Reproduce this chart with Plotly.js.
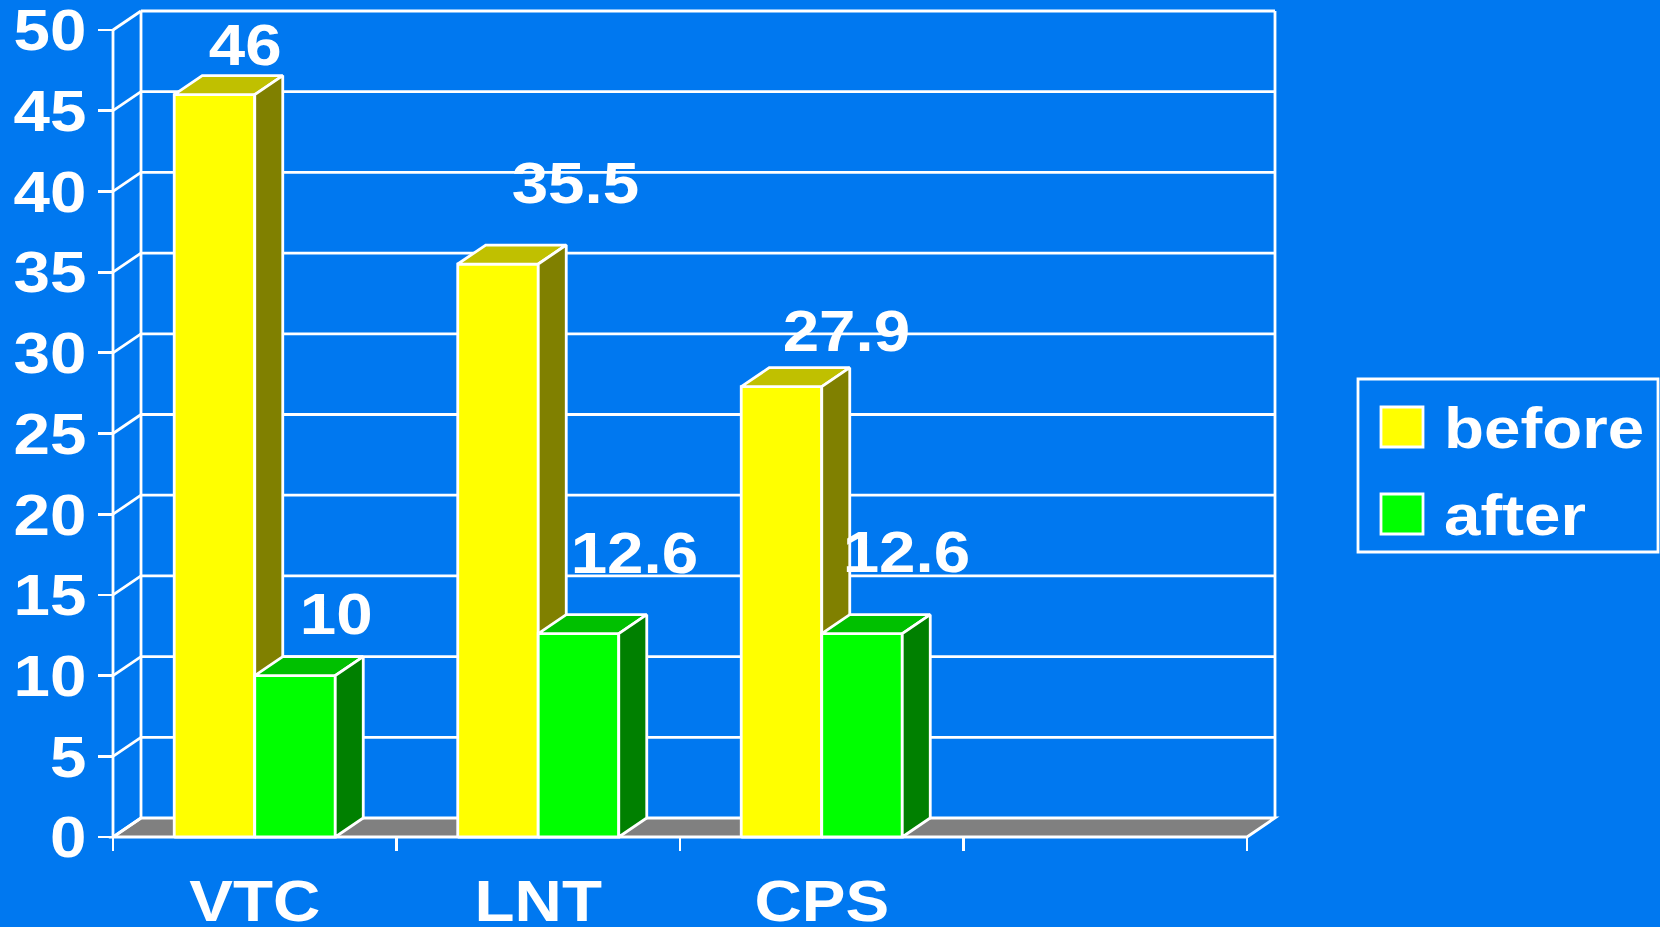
<!DOCTYPE html>
<html>
<head>
<meta charset="utf-8">
<script src="https://cdn.plot.ly/plotly-3.0.1.min.js"></script>
<style>html,body{margin:0;padding:0;background:rgb(0,120,240);}#chart{width:1660px;height:927px;}</style>
</head>
<body>
<div id="chart"></div>
<script>
// ---- data ----
const categories = ['VTC', 'LNT', 'CPS'];
const before = [46, 35.5, 27.9];
const after = [10, 12.6, 12.6];
const seriesNames = ['before', 'after'];
const yTickVals = [0, 5, 10, 15, 20, 25, 30, 35, 40, 45, 50];

// ---- layout constants (geometry / style) ----
const W = 1660, H = 927;
const SLOTS = 4;                 // the category axis has one empty slot at the right
const PX_X = 283.5, PX_Y = 16.14; // pixels per unit
const X0 = 113, Y0 = 837;        // pixel position of the front-left-bottom corner
const DX = 28 / PX_X, DY = 19 / PX_Y; // depth offset in data units
const BW = 0.284;                // bar width in slot units
const BG = 'rgb(0,120,240)';
const TEXT_STRETCH = 1.13;       // the source lettering is horizontally widened
const FONT = {family: '"Liberation Sans", Arial, sans-serif', size: 58, color: 'white', weight: 'bold'};
const faceColors = [
  {front: 'rgb(255,255,0)', top: 'rgb(192,192,0)', side: 'rgb(128,128,0)'},
  {front: 'rgb(0,255,0)', top: 'rgb(0,192,0)', side: 'rgb(0,128,0)'}
];
// per-label pixel shifts (as placed in the source picture)
const labelShift = [
  [[31, 50], [78, 82], [65, 56]],
  [[41, 62], [56, 81], [44, 82]]
];

const xr = [-0.5 - X0 / PX_X, -0.5 + (W - X0) / PX_X];
const yr = [-(H - Y0) / PX_Y, Y0 / PX_Y];
const xL = -0.5, xR = SLOTS - 0.5;
const yMax = yTickVals[yTickVals.length - 1];
const LW = 2.8;

function face(xs, ys, color) {
  return {type: 'scatter', mode: 'lines', x: xs, y: ys, fill: 'toself', fillcolor: color,
          line: {color: 'white', width: LW}, hoverinfo: 'skip', showlegend: false};
}

const series = [before, after];
const traces = [];
const annotations = [];
categories.forEach((cat, i) => {
  series.forEach((vals, s) => {
    const v = vals[i];
    const x0 = s === 0 ? i - BW : i;
    const x1 = x0 + BW;
    const c = faceColors[s];
    traces.push(face([x0, x1, x1, x0, x0], [0, 0, v, v, 0], c.front));
    traces.push(face([x0, x1, x1 + DX, x0 + DX, x0], [v, v, v + DY, v + DY, v], c.top));
    traces.push(face([x1, x1 + DX, x1 + DX, x1, x1], [0, DY, v + DY, v, 0], c.side));
    annotations.push({
      x: (x0 + x1) / 2, y: v, xref: 'x', yref: 'y', text: String(v), showarrow: false,
      xanchor: 'center', yanchor: 'middle',
      xshift: labelShift[s][i][0], yshift: labelShift[s][i][1], font: FONT
    });
  });
});

const shapes = [];
const wline = {color: 'white', width: LW};
// floor
shapes.push({type: 'path', xref: 'x', yref: 'y', layer: 'below',
  path: `M ${xL},0 L ${xR},0 L ${xR + DX},${DY} L ${xL + DX},${DY} Z`,
  fillcolor: 'rgb(128,128,128)', line: wline});
// back wall gridlines + left wall diagonals
yTickVals.forEach(v => {
  if (v > 0) shapes.push({type: 'line', xref: 'x', yref: 'y', layer: 'below',
    x0: xL + DX, y0: v + DY, x1: xR + DX, y1: v + DY, line: wline});
  shapes.push({type: 'line', xref: 'x', yref: 'y', layer: 'below',
    x0: xL, y0: v, x1: xL + DX, y1: v + DY, line: wline});
});
// back wall verticals
[xL + DX, xR + DX].forEach(xx => shapes.push({type: 'line', xref: 'x', yref: 'y', layer: 'below',
  x0: xx, y0: DY, x1: xx, y1: yMax + DY, line: wline}));
// front value axis line
shapes.push({type: 'line', xref: 'x', yref: 'y', layer: 'below', x0: xL, y0: 0, x1: xL, y1: yMax, line: wline});

// legend (drawn in paper coordinates)
const px = x => x / W, py = y => 1 - y / H;
shapes.push({type: 'rect', xref: 'paper', yref: 'paper', x0: px(1358), x1: px(1658), y0: py(552), y1: py(379),
  line: wline, fillcolor: BG});
const legY = [427, 514];
seriesNames.forEach((name, s) => {
  shapes.push({type: 'rect', xref: 'paper', yref: 'paper', x0: px(1381), x1: px(1423),
    y0: py(legY[s] + 20), y1: py(legY[s] - 20), fillcolor: faceColors[s].front, line: wline});
  annotations.push({xref: 'paper', yref: 'paper', x: px(1442), y: py(legY[s]), text: name, showarrow: false,
    xanchor: 'left', yanchor: 'middle', align: 'left', font: FONT});
});

const layout = {
  width: W, height: H,
  margin: {l: 0, r: 0, t: 0, b: 0},
  paper_bgcolor: BG, plot_bgcolor: BG,
  showlegend: false,
  xaxis: {
    range: xr, anchor: 'free', position: (H - Y0) / H,
    tickmode: 'array', tickvals: categories.map((c, i) => i), ticktext: categories,
    ticks: '', showgrid: false, zeroline: false, showline: false,
    tickfont: FONT, ticklabelstandoff: 25, ticklabeloverflow: 'allow', fixedrange: true,
    minor: {tickmode: 'array', tickvals: Array.from({length: SLOTS + 1}, (_, k) => k - 0.5),
            ticks: 'outside', ticklen: 13, tickwidth: LW, tickcolor: 'white', showgrid: false}
  },
  yaxis: {
    range: yr, anchor: 'free', position: X0 / W,
    tickmode: 'array', tickvals: yTickVals,
    ticks: 'outside', ticklen: 15, tickwidth: LW, tickcolor: 'white',
    showgrid: false, zeroline: false, showline: false,
    tickfont: FONT, ticklabelstandoff: 0, ticklabeloverflow: 'allow', fixedrange: true
  },
  shapes: shapes,
  annotations: annotations
};

function stretchText() {
  document.querySelectorAll('#chart svg text').forEach(t => {
    if (!t.textContent) return;
    const bb = t.getBBox();
    const anchor = t.getAttribute('text-anchor') || 'start';
    let ax = bb.x;
    if (anchor === 'middle') ax = bb.x + bb.width / 2;
    else if (anchor === 'end') ax = bb.x + bb.width;
    const old = t.getAttribute('transform') || '';
    t.setAttribute('transform', `${old} translate(${ax},0) scale(${TEXT_STRETCH},1) translate(${-ax},0)`.trim());
  });
}

Plotly.newPlot('chart', traces, layout, {staticPlot: true, displayModeBar: false}).then(stretchText);
</script>
</body>
</html>
